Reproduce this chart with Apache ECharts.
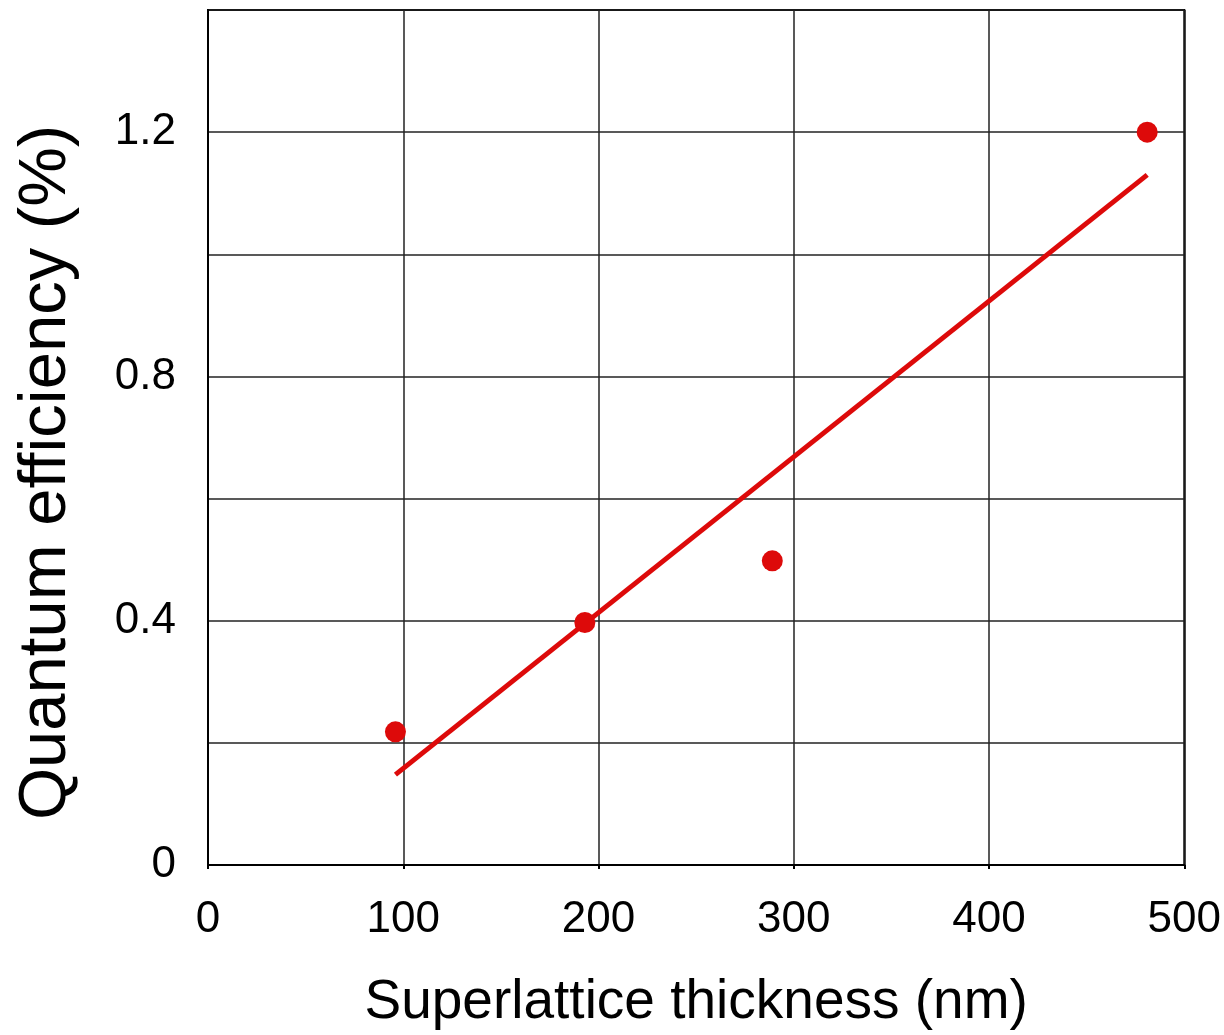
<!DOCTYPE html>
<html>
<head>
<meta charset="utf-8">
<script src="https://cdn.jsdelivr.net/npm/echarts@6/dist/echarts.min.js"></script>
<style>
  html, body { margin: 0; padding: 0; background: #fff; }
  #main { width: 1224px; height: 1035px; }
</style>
</head>
<body>
<div id="main"></div>
<script>
// measured points
const thickness = [96, 193, 289, 481];
const efficiency = [0.218, 0.397, 0.498, 1.2];
// linear fit, drawn between its end points
const fitX = [96, 481];
const fitY = [0.148, 1.13];

const RED = '#dd0a0a';
const FONT = 'Liberation Sans, Arial, sans-serif';

const chart = echarts.init(document.getElementById('main'));

const option = {
    backgroundColor: '#fff',
    animation: false,
    grid: {
        left: 208,
        top: 10,
        right: 39,
        bottom: 165,
        show: true,
        borderColor: '#000',
        borderWidth: 2
    },
    xAxis: {
        type: 'value',
        min: 0,
        max: 500,
        interval: 100,
        name: 'Superlattice thickness (nm)',
        nameLocation: 'middle',
        nameGap: 110,
        nameTextStyle: { fontSize: 55, color: '#000', fontFamily: FONT },
        axisLine: { lineStyle: { color: '#000', width: 2 } },
        axisTick: { show: true, length: 4, lineStyle: { color: '#000', width: 2 } },
        axisLabel: { fontSize: 44, color: '#000', fontFamily: FONT, margin: 33 },
        splitLine: { show: true, lineStyle: { color: '#222', width: 1.5 } }
    },
    yAxis: {
        type: 'value',
        min: 0,
        max: 1.4,
        interval: 0.2,
        name: 'Quantum efficiency (%)',
        nameLocation: 'middle',
        nameGap: 128,
        nameTextStyle: {
            fontSize: 67,
            color: '#000',
            fontFamily: FONT,
            padding: [0, 70, 0, 0]
        },
        axisLine: { lineStyle: { color: '#000', width: 2 } },
        axisTick: { show: false },
        axisLabel: {
            fontSize: 44,
            color: '#000',
            fontFamily: FONT,
            margin: 32,
            formatter: function (v) {
                const k = Math.round(v * 10);
                if (k % 4 !== 0 || k > 12) return '';
                return k === 0 ? '0' : (k / 10).toFixed(1);
            }
        },
        splitLine: { show: true, lineStyle: { color: '#222', width: 1.5 } }
    },
    series: [
        {
            type: 'line',
            data: fitX.map((x, i) => [x, fitY[i]]),
            showSymbol: false,
            lineStyle: { color: RED, width: 5 },
            z: 3
        },
        {
            type: 'scatter',
            data: thickness.map((x, i) => [x, efficiency[i]]),
            symbol: 'circle',
            symbolSize: 21,
            itemStyle: { color: RED, opacity: 1 },
            z: 4
        }
    ]
};

chart.setOption(option);
</script>
</body>
</html>
